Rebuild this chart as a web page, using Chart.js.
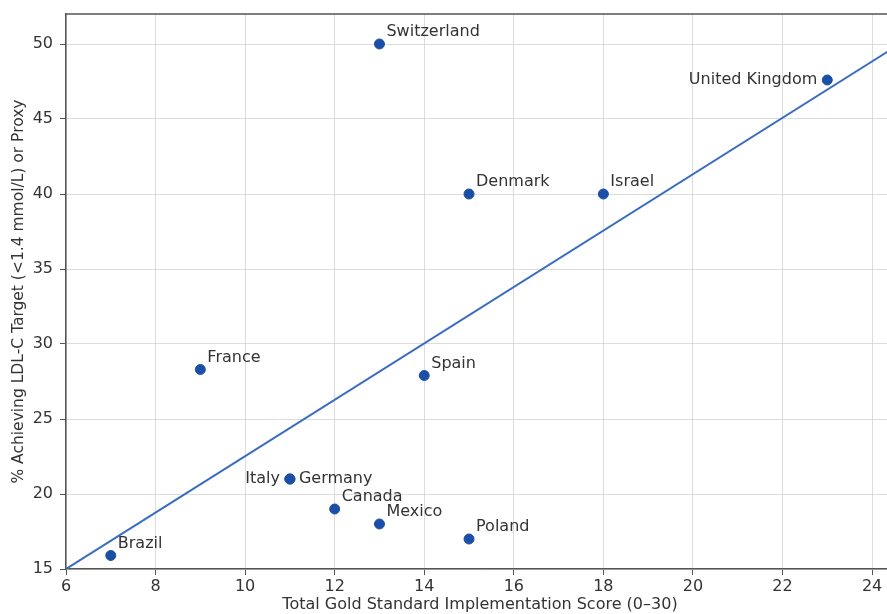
<!DOCTYPE html>
<html><head><meta charset="utf-8">
<script src="https://cdn.jsdelivr.net/npm/chart.js@4/dist/chart.umd.min.js"></script>
<style>
html,body{margin:0;padding:0;background:#fff;overflow:hidden;}
#wrap{width:887px;height:614px;overflow:hidden;position:relative;}
#c{position:absolute;left:0;top:0;}
</style></head>
<body>
<div id="wrap"><canvas id="c" width="900" height="614"></canvas></div>
<script>
const countries = ["Switzerland","United Kingdom","Denmark","Israel","France","Spain","Italy","Germany","Canada","Mexico","Poland","Brazil"];
const scores = [13,23,15,18,9,14,11,11,12,13,15,7];
const ldlPct = [50,47.6,40,40,28.3,27.9,21,21,19,18,17,15.9];
const trendX = [5,25];
const trendY = [13.12,50.72];
const xTicks = [6,8,10,12,14,16,18,20,22,24];
const yTicks = [15,20,25,30,35,40,45,50];
const leftLabels = ["United Kingdom","Italy"];
const sideLabels = ["Germany"];

const FONT = "'DejaVu Sans', sans-serif";
const TEXT = '#333333';

const labelPlugin = {
  id:'labels',
  afterDatasetsDraw(chart){
    const {ctx, scales:{x,y}} = chart;
    ctx.save();
    ctx.font = "16px " + FONT;
    ctx.fillStyle = TEXT;
    countries.forEach((name,i)=>{
      const px = x.getPixelForValue(scores[i]);
      const py = y.getPixelForValue(ldlPct[i]);
      if (leftLabels.includes(name)) {
        ctx.textAlign='right'; ctx.textBaseline='middle';
        ctx.fillText(name, px-10, py);
      } else if (sideLabels.includes(name)) {
        ctx.textAlign='left'; ctx.textBaseline='middle';
        ctx.fillText(name, px+9, py);
      } else {
        ctx.textAlign='left'; ctx.textBaseline='middle';
        ctx.fillText(name, px+7, py-12);
      }
    });
    // top spine
    const a = chart.chartArea;
    ctx.strokeStyle='#555'; ctx.lineWidth=1.5;
    ctx.beginPath(); ctx.moveTo(a.left, a.top); ctx.lineTo(a.right+2, a.top); ctx.stroke();
    ctx.restore();
  }
};

new Chart(document.getElementById('c'), {
  type:'scatter',
  data:{
    datasets:[
      {
        data: scores.map((v,i)=>({x:v,y:ldlPct[i]})),
        backgroundColor:'#1b4fa6', borderColor:'#1b4fa6',
        pointRadius:5, pointHoverRadius:5, order:1
      },
      {
        data: trendX.map((v,i)=>({x:v,y:trendY[i]})),
        showLine:true, borderColor:'#3a6dc0', borderWidth:2,
        pointRadius:0, order:2
      }
    ]
  },
  options:{
    responsive:false, animation:false,
    layout:{padding:{top:14,right:2,left:0,bottom:0}},
    plugins:{legend:{display:false}, tooltip:{enabled:false}},
    scales:{
      x:{
        type:'linear', min:6, max:24.49,
        afterBuildTicks(s){ s.ticks = xTicks.map(v=>({value:v})); },
        afterFit(s){ s.height = 45; s.paddingLeft = 0; s.paddingRight = 0; },
        ticks:{font:{family:FONT,size:16}, color:TEXT, padding:2, maxRotation:0},
        grid:{color:'#d3d3d3', lineWidth:0.8, borderDash:[2,2], tickLength:6, tickColor:'#555', tickBorderDash:[], tickWidth:1},
        border:{color:'#555', width:1.5},
        title:{display:true, text:'Total Gold Standard Implementation Score (0–30)', font:{family:FONT,size:16}, color:TEXT, padding:{top:0,bottom:0}}
      },
      y:{
        type:'linear', min:15, max:52,
        afterBuildTicks(s){ s.ticks = yTicks.map(v=>({value:v})); },
        afterFit(s){ s.width = 66; s.paddingTop = 0; s.paddingBottom = 0; },
        ticks:{font:{family:FONT,size:16}, color:TEXT, padding:7},
        grid:{color:'#d3d3d3', lineWidth:0.8, borderDash:[2,2], tickLength:6, tickColor:'#555', tickBorderDash:[], tickWidth:1},
        border:{color:'#555', width:1.5},
        title:{display:true, text:'% Achieving LDL-C Target (<1.4 mmol/L) or Proxy', font:{family:FONT,size:15.5}, color:TEXT, padding:{top:10,bottom:10}}
      }
    }
  },
  plugins:[labelPlugin]
});
</script>
</body></html>
